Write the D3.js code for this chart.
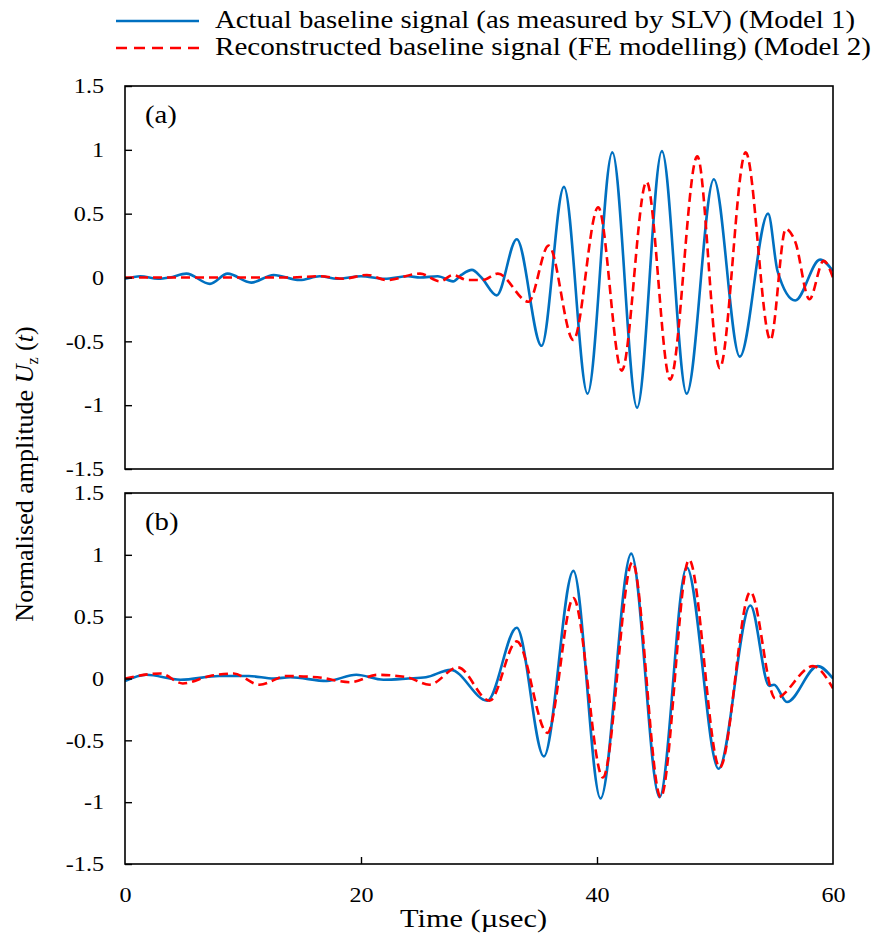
<!DOCTYPE html>
<html>
<head>
<meta charset="utf-8">
<script src="https://cdn.jsdelivr.net/npm/d3@7"></script>
<style>
  body { margin: 0; background: #fff; }
  svg { font-family: "Liberation Serif", "Times New Roman", serif; }
</style>
</head>
<body>
<svg id="chart" width="877" height="936"></svg>
<script>
// ---- data ----
// panel (a)
const aActualT = [0, 1.3, 2.8, 3.8, 5.2, 7.2, 8.7, 10.7, 12.6, 14.8, 16.5, 18, 20, 22, 24, 25, 26.5, 27.8, 28.5, 29.4, 30.2, 31.5, 33.2, 35.3, 37.2, 39.2, 41.3, 43.4, 45.5, 47.6, 49.9, 52.1, 54.5, 55.3, 56.8, 58.9, 60];
const aActualV = [-0.01, 0.01, -0.01, 0.0, 0.03, -0.05, 0.03, -0.04, 0.02, -0.02, 0.01, -0.01, 0.01, -0.01, 0.01, 0.0, 0.01, -0.03, 0.02, 0.06, 0.0, -0.14, 0.30, -0.535, 0.71, -0.91, 0.98, -1.02, 0.99, -0.91, 0.77, -0.62, 0.50, 0.05, -0.18, 0.14, 0.05];
const aReconT = [0, 5, 10, 14, 16.5, 18.5, 20.5, 22.2, 25, 26.7, 27.8, 29, 30.3, 31.6, 34.2, 35.9, 38.0, 40.1, 42.1, 44.2, 46.2, 48.5, 50.4, 52.6, 54.7, 56.0, 56.8, 58.0, 59.2, 60];
const aReconV = [0, 0.0, 0.0, 0.0, 0.01, -0.01, 0.02, -0.02, 0.03, -0.03, 0.02, -0.02, -0.02, 0.03, -0.19, 0.25, -0.49, 0.55, -0.73, 0.75, -0.80, 0.95, -0.71, 0.98, -0.49, 0.38, 0.28, -0.17, 0.13, 0.0];

// panel (b)
const bActualT = [0, 1.8, 4.7, 8.0, 10.5, 12.6, 14.0, 17.1, 19.6, 21.9, 24, 25.5, 27.6, 30.7, 33.2, 35.5, 38.0, 40.3, 42.9, 45.3, 47.6, 50.3, 53.0, 54.6, 55.0, 56.1, 58.7, 60];
const bActualV = [-0.02, 0.03, -0.01, 0.02, 0.02, 0.0, 0.01, -0.02, 0.03, -0.01, 0.0, 0.01, 0.07, -0.18, 0.41, -0.63, 0.87, -0.97, 1.01, -0.96, 0.90, -0.73, 0.59, -0.06, -0.05, -0.19, 0.10, 0.0];
const bReconT = [0, 3.0, 4.9, 7.2, 9.2, 11.4, 13.7, 16.3, 19.1, 21.4, 23.9, 25.8, 28.2, 30.9, 33.2, 35.8, 38.0, 40.5, 43.0, 45.4, 47.8, 50.4, 53.0, 55.1, 58.3, 60];
const bReconV = [0.0, 0.04, -0.04, 0.02, 0.04, -0.05, 0.02, 0.01, -0.03, 0.03, 0.01, -0.05, 0.09, -0.18, 0.30, -0.44, 0.65, -0.80, 0.94, -0.96, 0.96, -0.72, 0.70, -0.16, 0.10, -0.08];

const xTicks = [0, 20, 40, 60];
const yTicks = [1.5, 1, 0.5, 0, -0.5, -1, -1.5];
const legendNames = [
  "Actual baseline signal (as measured by SLV) (Model 1)",
  "Reconstructed baseline signal (FE modelling) (Model 2)"
];

const blue = "#0070c0";
const red = "#ff0000";
const dash = "9,5";
const stretch = 1.15; // glyphs in the picture are a bit wide

const svg = d3.select("#chart");
const left = 125, right = 833;

const x = d3.scaleLinear().domain([0, 60]).range([left, right]);

const panels = [
  { label: "(a)", top: 86, bottom: 469, series: [[aActualT, aActualV], [aReconT, aReconV]], xAxis: false },
  { label: "(b)", top: 493, bottom: 864, series: [[bActualT, bActualV], [bReconT, bReconV]], xAxis: true }
];

const zip = (t, v) => t.map((d, i) => [d, v[i]]);

panels.forEach((p) => {
  const y = d3.scaleLinear().domain([-1.5, 1.5]).range([p.bottom, p.top]);
  const g = svg.append("g");

  const clipId = "clip" + p.label.replace(/\W/g, "");
  svg.append("clipPath").attr("id", clipId)
    .append("rect").attr("x", left).attr("y", p.top)
    .attr("width", right - left).attr("height", p.bottom - p.top);

  const line = d3.line()
    .x((d) => x(d[0]))
    .y((d) => y(d[1]))
    .curve(d3.curveMonotoneX);

  // blue (actual) first, red dashed on top
  g.append("path")
    .attr("d", line(zip(p.series[0][0], p.series[0][1])))
    .attr("clip-path", `url(#${clipId})`)
    .attr("fill", "none")
    .attr("stroke", blue)
    .attr("stroke-width", 2.6);

  g.append("path")
    .attr("d", line(zip(p.series[1][0], p.series[1][1])))
    .attr("clip-path", `url(#${clipId})`)
    .attr("fill", "none")
    .attr("stroke", red)
    .attr("stroke-width", 2.6)
    .attr("stroke-dasharray", dash);

  // frame
  g.append("rect")
    .attr("x", left).attr("y", p.top)
    .attr("width", right - left).attr("height", p.bottom - p.top)
    .attr("fill", "none").attr("stroke", "#000").attr("stroke-width", 1.6);

  // y axis, ticks pointing inward
  const ya = g.append("g")
    .attr("transform", `translate(${left},0)`)
    .call(d3.axisLeft(y).tickValues(yTicks).tickSize(-7)
      .tickFormat((d) => String(d)));
  ya.select(".domain").remove();
  ya.selectAll("line").attr("stroke-width", 1.4);
  ya.selectAll("text")
    .attr("x", 0)
    .attr("transform", `translate(-21,0) scale(${stretch},1)`)
    .attr("font-size", 21).attr("font-family", "Liberation Serif").attr("fill", "#000");

  if (p.xAxis) {
    const xa = g.append("g")
      .attr("transform", `translate(0,${p.bottom})`)
      .call(d3.axisBottom(x).tickValues(xTicks).tickSize(-7).tickPadding(23)
        .tickFormat((d) => String(d)));
    xa.select(".domain").remove();
    xa.selectAll("line").attr("stroke-width", 1.4)
      .attr("display", (d) => (d === 0 || d === 60 ? "none" : null));
    xa.selectAll("text")
      .attr("transform", `scale(${stretch},1)`)
      .attr("font-size", 21).attr("font-family", "Liberation Serif").attr("fill", "#000");
  }

  g.append("text")
    .attr("transform", `translate(145,${p.top + 37}) scale(${stretch},1)`)
    .attr("font-size", 25)
    .text(p.label);
});

// x title
svg.append("text")
  .attr("x", 400).attr("y", 927)
  .attr("font-size", 26)
  .attr("textLength", 147)
  .attr("lengthAdjust", "spacingAndGlyphs")
  .text("Time (\u00b5sec)");

// y title
const yt = svg.append("text")
  .attr("transform", "translate(33,474) rotate(-90)")
  .attr("text-anchor", "middle")
  .attr("font-size", 26);
yt.append("tspan").text("Normalised amplitude ");
yt.append("tspan").attr("font-style", "italic").text("U");
yt.append("tspan").attr("font-size", 16).attr("dy", 5).text("z");
yt.append("tspan").attr("dy", -5).text(" (");
yt.append("tspan").attr("font-style", "italic").text("t");
yt.append("tspan").text(")");

// legend
const legendWidths = [640, 656];
const leg = svg.append("g");
legendNames.forEach((name, i) => {
  const ly = 21 + i * 27;
  leg.append("line")
    .attr("x1", 116).attr("x2", 199).attr("y1", ly).attr("y2", ly)
    .attr("stroke", i === 0 ? blue : red)
    .attr("stroke-width", 2.6)
    .attr("stroke-dasharray", i === 0 ? null : "11,7");
  leg.append("text")
    .attr("x", 215).attr("y", ly + 7)
    .attr("font-size", 26)
    .attr("textLength", legendWidths[i])
    .attr("lengthAdjust", "spacingAndGlyphs")
    .text(name);
});
</script>
</body>
</html>
